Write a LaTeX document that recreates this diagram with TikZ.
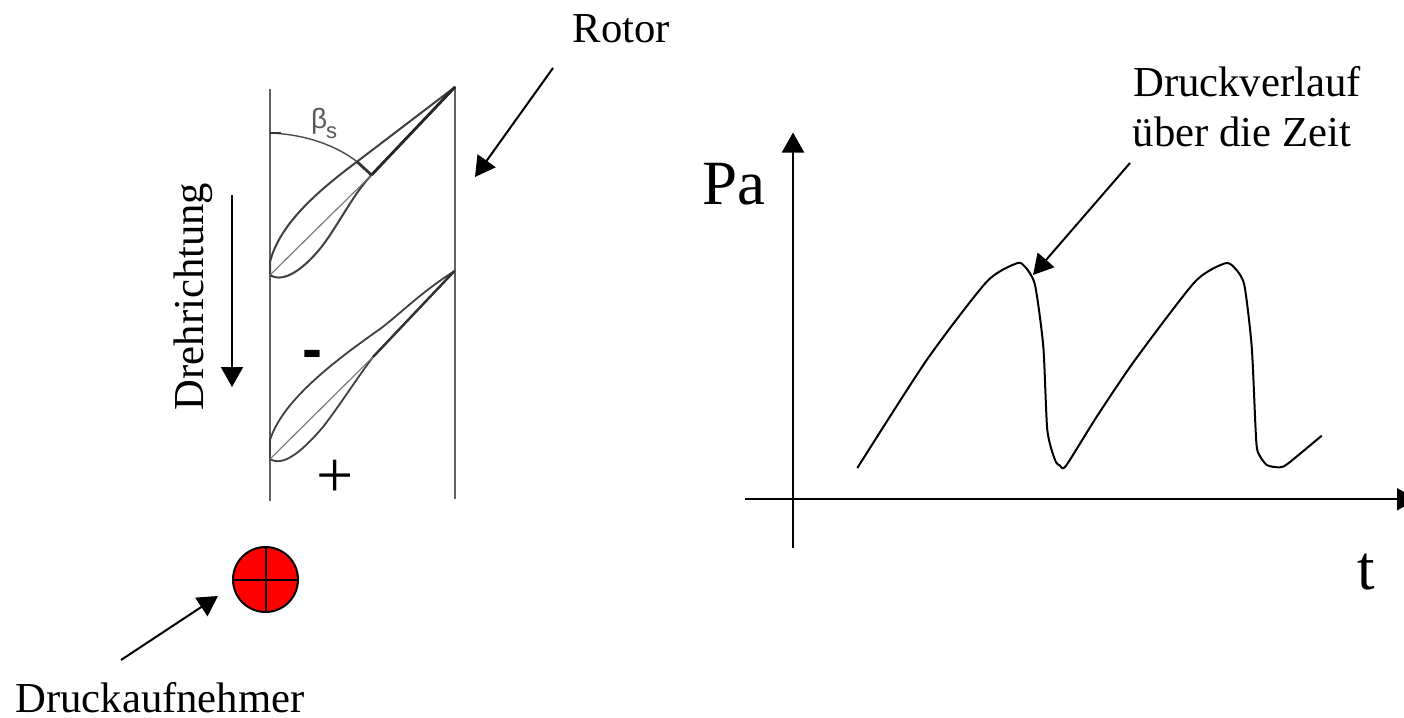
\documentclass[tikz,border=0pt]{standalone}
\usepackage{fontspec}
\setmainfont{Liberation Serif}
\newfontfamily\arialfont{Liberation Sans}
\usetikzlibrary{arrows.meta}
\tikzset{
  x=1pt,y=-1pt,
  lbl/.style={inner sep=0pt,anchor=base,font=\fontsize{42.7}{46}\selectfont},
  biglbl/.style={inner sep=0pt,anchor=base,font=\fontsize{63}{68}\selectfont},
  arr/.style={line width=2pt,-{Triangle[length=20pt,width=22pt]}},
  blade/.style={line width=2pt,draw=black!75,line join=round},
  chord/.style={line width=1.1pt,draw=black!55},
  wall/.style={line width=2.6pt,draw=black!62},
}
\begin{document}
\begin{tikzpicture}
\path[use as bounding box,fill=white] (0,0) rectangle (1404,717);
\clip (0,0) rectangle (1404,717);
% walls
\coordinate (wl1) at (270,89); \coordinate (wl2) at (270,501);
\coordinate (wr1) at (455,87); \coordinate (wr2) at (455,499);
\draw[wall] (wl1) -- (wl2);
\draw[wall] (wr1) -- (wr2);
% blade 1
\coordinate (t1) at (455,87); \coordinate (le1) at (270,275);
\coordinate (c1) at (371.5,175); \coordinate (a1) at (357,161.7);
\draw[blade] (t1) -- (a1) .. controls (322,188) and (280,222) .. (270,262) -- (le1)
  .. controls (284,284) and (305,268) .. (323,245)
  .. controls (340,222) and (354,193) .. (c1) -- cycle;
\draw[line width=2.8pt,draw=black!85] (c1) -- (t1);
\draw[chord] (le1) -- (c1);
% angle arc
\coordinate (a0) at (270,133);
\draw[line width=1.4pt,draw=black!70] (a0) .. controls (300,134) and (333,143) .. (a1);
\draw[line width=2.8pt,draw=black!80] (a1) -- (c1);
\draw[line width=2.8pt,draw=black!80] (a0) -- ++(11,0);
\node[inner sep=0pt,anchor=base west,text=black!65,font=\arialfont\fontsize{28}{30}\selectfont] (beta) at (311,128) {β};
\node[inner sep=0pt,anchor=base west,text=black!65,font=\arialfont\fontsize{22}{24}\selectfont] (betas) at (326,138) {s};
% blade 2
\coordinate (t2) at (454.5,271); \coordinate (le2) at (270,459);
\coordinate (c2) at (373,357);
\draw[blade,line width=1.8pt] (t2) .. controls (420,293) and (400,314) .. (380,329)
  .. controls (330,364) and (282,402) .. (270,440) -- (le2)
  .. controls (284,468) and (305,448) .. (323,427)
  .. controls (340,405) and (357,378) .. (c2) -- cycle;
\draw[line width=2.4pt,draw=black!80] (c2) -- (t2);
\draw[chord] (le2) -- (c2);
% signs
\node[inner sep=0pt,anchor=base,font=\arialfont\bfseries\fontsize{60}{64}\selectfont] (minus) at (312,369) {-};
\node[inner sep=0pt,anchor=base,font=\fontsize{66}{70}\selectfont] (plus) at (335.5,497) {+};
% labels
\node[lbl] (rotor) at (621.5,42) {Rotor};
\node[lbl] (dv1) at (1247,96.5) {Druckverlauf};
\node[lbl] (dv2) at (1242,146.5) {über die Zeit};
\node[lbl] (auf) at (160,712) {Druckaufnehmer};
\node[lbl,rotate=90] (dreh) at (203,296.5) {Drehrichtung};
\node[biglbl] (pa) at (734,204) {Pa};
\node[biglbl] (t) at (1366.5,589) {t};
% sensor
\node[circle,draw=black,line width=2pt,fill=red,minimum size=65pt,inner sep=0pt] (sensor) at (265.5,579.5) {};
\draw[line width=2pt] (sensor.north) -- (sensor.south);
\draw[line width=2pt] (sensor.west) -- (sensor.east);
% arrows
\coordinate (ar1) at (553,68); \coordinate (ar2) at (475,177);
\draw[arr] (ar1) -- (ar2);
\coordinate (as1) at (121,660); \coordinate (as2) at (218,596);
\draw[arr] (as1) -- (as2);
\coordinate (ad1) at (232,195); \coordinate (ad2) at (232,387);
\draw[arr] (ad1) -- (ad2);
\coordinate (av1) at (1130,163); \coordinate (av2) at (1033,275);
\draw[arr] (av1) -- (av2);
% axes
\coordinate (y0) at (793,548); \coordinate (y1) at (793,132.5);
\draw[arr] (y0) -- (y1);
\coordinate (x0) at (745,499.3); \coordinate (x1) at (1417,499.3);
\draw[arr] (x0) -- (x1);
% curve
\draw[line width=2pt,line join=round] plot[smooth,tension=.4] coordinates {
(857.3,468) (926.7,360) (986.7,281.7) (1016.7,263.3) (1025,266.7) (1035,285) (1043.3,346.7) (1047.3,430) (1055,460) (1060,465.7) (1066,465.7) (1096.7,416.7) (1135,360) (1195,281.7) (1225,263.3) (1235,268.3) (1244.3,285) (1251.7,346.7) (1255.7,431.7) (1257.7,451.7) (1266.7,465) (1280,467.3) (1288.3,463.3) (1321.7,435.7)};
\end{tikzpicture}
\end{document}
